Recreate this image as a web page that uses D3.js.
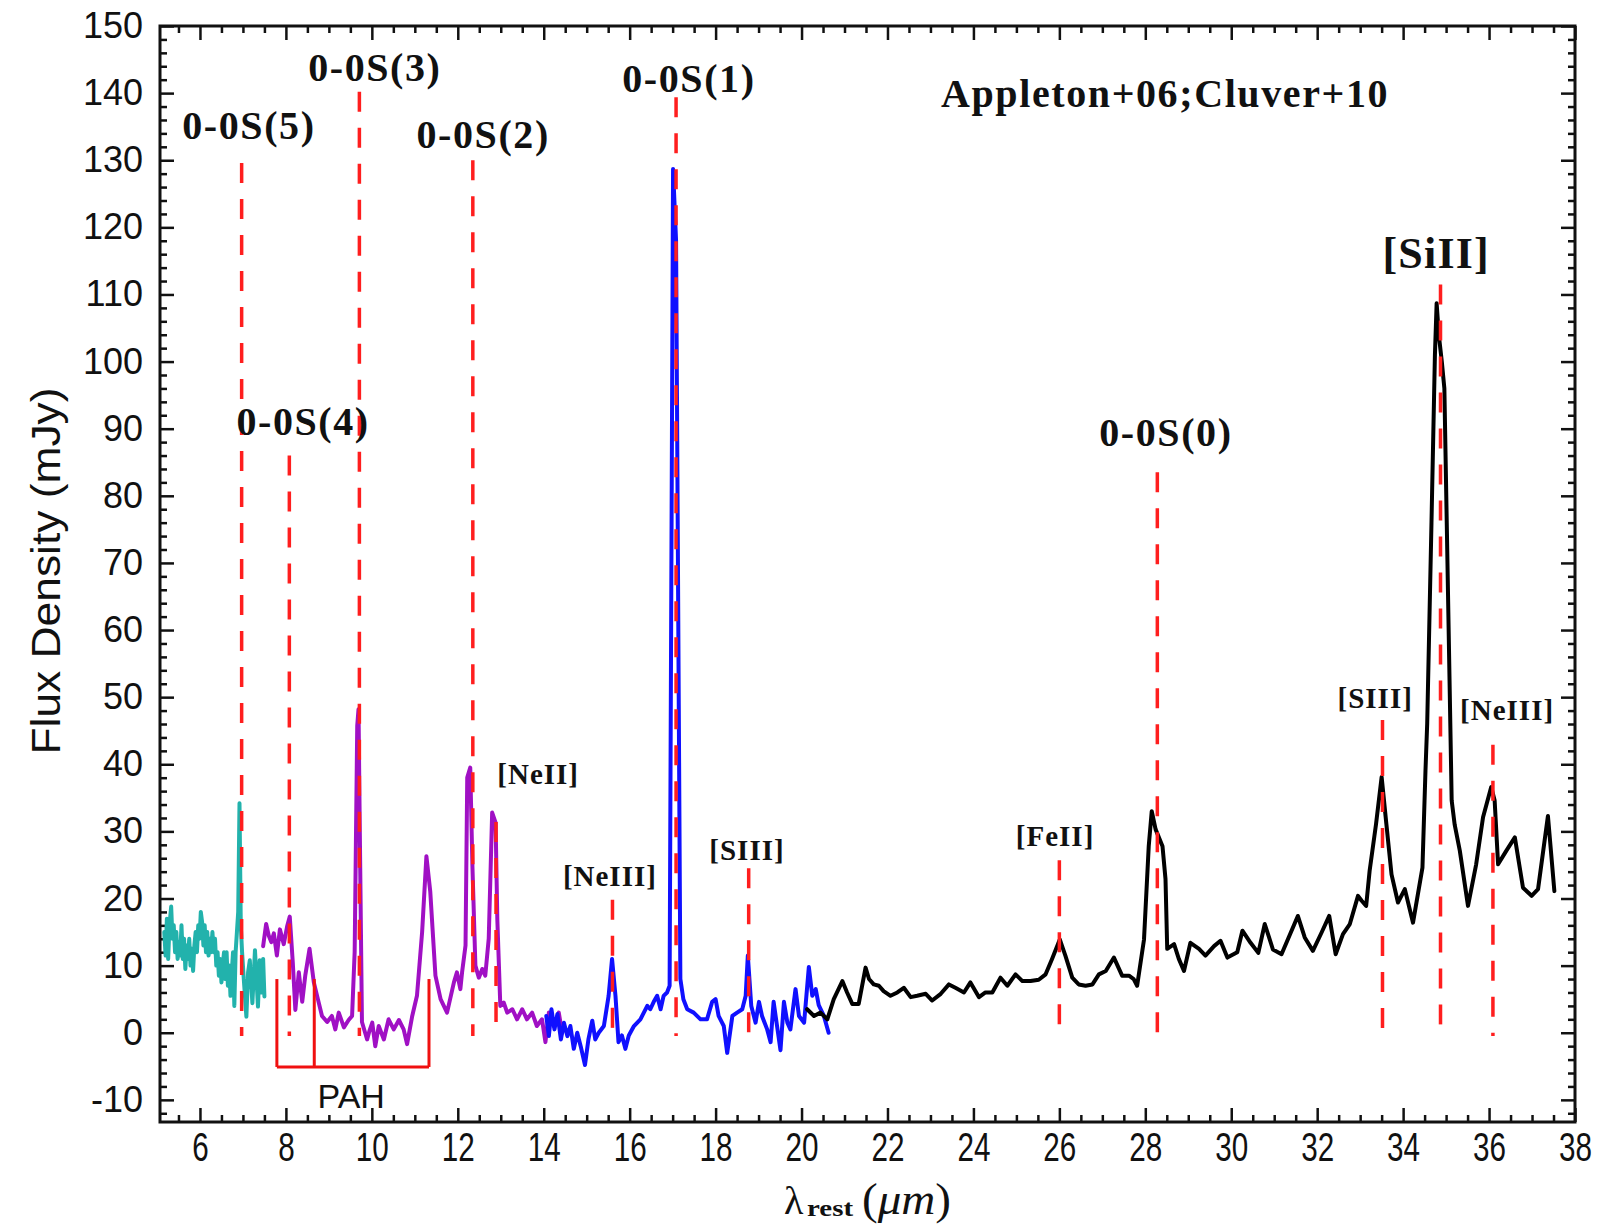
<!DOCTYPE html>
<html><head><meta charset="utf-8">
<script src="https://cdn.jsdelivr.net/npm/d3@7"></script>
<style>body{margin:0;background:#fff} svg{display:block}</style>
</head><body>
<svg id="chart" width="1600" height="1228"></svg>
<script>
// ---- spectrum segments: [wavelength (um), flux (mJy)] ----
const cyanSeg = [[5.17,15],[5.20,11.5],[5.23,17],[5.26,11],[5.29,16],[5.33,18.8],[5.36,14],[5.39,16],[5.42,12],[5.45,15],[5.48,11],[5.51,13.5],[5.54,11.5],[5.57,16],[5.60,11],[5.63,14],[5.66,9.5],[5.69,13],[5.72,11],[5.75,14],[5.78,10],[5.81,12.5],[5.84,9.2],[5.87,13],[5.90,15],[5.93,12],[5.96,16],[5.99,14],[6.02,18],[6.05,16.5],[6.08,13],[6.11,16],[6.14,12],[6.17,15],[6.20,11.5],[6.23,14],[6.26,12],[6.29,15],[6.32,12],[6.35,14],[6.38,10],[6.41,12],[6.44,8.5],[6.47,11],[6.50,7.5],[6.53,10],[6.56,12],[6.59,8],[6.62,12],[6.65,7],[6.68,10],[6.71,5.5],[6.74,9],[6.77,12],[6.80,4],[6.83,12],[6.86,15],[6.89,18],[6.92,34.2],[6.95,16],[6.98,12],[7.02,8],[7.08,2.4],[7.12,9],[7.16,10.8],[7.22,4.4],[7.28,12.3],[7.35,3.9],[7.39,10.8],[7.43,6],[7.47,11],[7.50,5.4]];
const purpleSeg = [[7.47,12.9],[7.54,16.2],[7.60,14.5],[7.66,13.5],[7.72,14.8],[7.79,11.5],[7.86,15.4],[7.95,13.2],[8.03,15.9],[8.09,17.3],[8.16,10.5],[8.22,3.4],[8.30,9],[8.38,4.6],[8.45,8.5],[8.55,12.5],[8.65,7.5],[8.76,4.6],[8.84,2.5],[8.96,1.6],[9.07,2.5],[9.15,0.5],[9.23,3],[9.35,0.8],[9.46,1.9],[9.54,2.5],[9.60,12],[9.66,45.7],[9.69,48.2],[9.72,30],[9.77,1.6],[9.89,-1],[9.95,0.4],[10.01,1.5],[10.08,-2],[10.16,1],[10.28,-1],[10.39,2],[10.51,0.5],[10.63,1.9],[10.74,0.5],[10.82,-1.7],[10.94,2.5],[11.05,5.5],[11.17,15],[11.27,26.3],[11.36,21],[11.48,8.5],[11.60,5],[11.75,3],[11.91,7.5],[11.98,9],[12.06,6.5],[12.10,9],[12.18,13],[12.22,38],[12.29,39.5],[12.34,25],[12.41,10],[12.49,8.2],[12.57,9.5],[12.64,8.5],[12.72,14],[12.80,32.8],[12.88,31.3],[12.92,16.9],[12.99,4],[13.07,4.5],[13.15,3],[13.27,3.5],[13.38,2],[13.50,3.5],[13.61,2],[13.73,3],[13.84,1],[13.96,2],[14.04,-1.4],[14.12,3],[14.23,1],[14.35,3],[14.43,0]];
const blueSeg = [[14.06,2.5],[14.12,-0.5],[14.18,3.5],[14.25,0.5],[14.32,2.8],[14.40,-1],[14.47,1.5],[14.55,-0.5],[14.62,1],[14.70,-2.4],[14.78,0],[14.86,-2],[14.96,-4.8],[15.04,-1],[15.13,1.8],[15.20,-1],[15.28,0],[15.40,1],[15.51,5.5],[15.59,11],[15.67,5.5],[15.74,-1.4],[15.82,-0.4],[15.90,-2.4],[15.98,-0.4],[16.10,1],[16.25,2],[16.41,4],[16.48,3.5],[16.56,4.6],[16.64,5.5],[16.72,3.5],[16.79,5.5],[16.87,6],[16.93,7],[17.01,128.7],[17.08,118],[17.18,8],[17.25,5],[17.34,3.5],[17.49,3],[17.65,2],[17.80,2],[17.92,4.6],[18.00,5],[18.07,2.5],[18.19,1],[18.27,-3],[18.39,2.5],[18.50,3],[18.62,3.5],[18.70,5.5],[18.75,11.5],[18.83,4],[18.93,1.5],[19.01,4.6],[19.08,2.5],[19.20,0.5],[19.28,-1.4],[19.35,4.6],[19.43,1],[19.51,-2.6],[19.59,4.6],[19.67,1.5],[19.74,0.5],[19.86,6.5],[19.94,2.5],[20.06,1.5],[20.17,9.8],[20.25,5.5],[20.33,6.5],[20.40,4.1],[20.52,2.5],[20.63,0]];
const blackSeg = [[20.13,3.5],[20.29,2.5],[20.44,3],[20.60,2],[20.75,5],[20.95,7.7],[21.06,6],[21.18,4.3],[21.33,4.3],[21.49,9.7],[21.57,8],[21.68,7.2],[21.80,7],[21.91,6.2],[22.07,5.5],[22.23,6],[22.38,6.7],[22.54,5.3],[22.69,5.5],[22.89,5.8],[23.04,4.8],[23.24,5.8],[23.43,7.2],[23.58,6.7],[23.78,6],[23.93,7.5],[24.13,5.3],[24.28,6],[24.44,6],[24.63,8.2],[24.79,7],[24.98,8.7],[25.14,7.7],[25.33,7.7],[25.52,7.9],[25.68,8.7],[25.83,11],[26.01,13.9],[26.14,11.5],[26.30,8.2],[26.45,7.2],[26.61,7],[26.77,7.2],[26.92,8.7],[27.08,9.2],[27.27,11.2],[27.46,8.5],[27.62,8.5],[27.73,8],[27.81,7],[27.97,13.9],[28.08,27.8],[28.15,33],[28.24,30.3],[28.40,27.8],[28.47,22.9],[28.51,12.5],[28.67,13.2],[28.78,11],[28.90,9.2],[29.05,13.4],[29.25,12.5],[29.40,11.5],[29.60,12.9],[29.75,13.7],[29.91,11.2],[30.14,12],[30.26,15.2],[30.45,13.4],[30.63,11.9],[30.78,16.2],[30.97,12.4],[31.17,11.7],[31.55,17.4],[31.71,14.2],[31.90,12.2],[32.10,14.9],[32.28,17.4],[32.43,11.7],[32.60,14.7],[32.76,16.2],[32.95,20.4],[33.03,19.7],[33.14,18.9],[33.22,24.1],[33.37,31.1],[33.50,38.1],[33.61,31.1],[33.73,23.6],[33.88,19.4],[34.04,21.4],[34.23,16.4],[34.45,24.6],[34.52,39],[34.56,46],[34.66,76],[34.74,101],[34.78,108.7],[34.83,104],[34.90,100],[34.96,96],[35.13,34.6],[35.20,31],[35.32,27.1],[35.51,18.9],[35.70,25.1],[35.86,32.1],[36.05,36.6],[36.13,34.6],[36.21,25.1],[36.40,27.1],[36.60,29.1],[36.79,21.6],[36.99,20.4],[37.14,21.4],[37.37,32.3],[37.52,21.1]];

// ---- emission line markers ----
const lineNames = ["0-0S(5)","0-0S(4)","0-0S(3)","0-0S(2)","[NeII]","[NeIII]","0-0S(1)","[SIII]","[FeII]","0-0S(0)","[SIII]","[SiII]","[NeIII]"];
const lineX   = [6.97, 8.08, 9.71, 12.35, 12.89, 15.60, 17.08, 18.77, 26.00, 28.28, 33.52, 34.87, 36.09];
const lineTop = [129.6, 86, 140.2, 130, 31.4, 19.8, 139.4, 24.5, 25.7, 83.5, 46.6, 111.5, 42.9];
const lineBottom = -0.5;

// ---- PAH bracket ----
const pahX = [7.79, 8.66, 11.33];
const pahTop = 8;
const pahBase = -5.1;

// ---- annotation texts (anchor in data units) ----
const labelText = ["0-0S(5)","0-0S(3)","0-0S(2)","0-0S(1)","Appleton+06;Cluver+10","[SiII]","0-0S(4)","0-0S(0)","[NeII]","[NeIII]","[SIII]","[FeII]","[SIII]","[NeIII]","PAH"];
const labelX = [7.14, 10.07, 12.59, 17.38, 28.46, 34.77, 8.40, 28.48, 13.87, 15.54, 18.73, 25.90, 33.35, 36.42, 9.52];
const labelY = [133.2, 141.8, 131.8, 140.2, 137.9, 113.9, 89.1, 87.4, 37.1, 21.9, 25.7, 27.8, 48.4, 46.6, -11.2];
const labelKind = ["h","h","h","h","h","big","h","h","s","s","s","s","s","s","pah"];

// ---- axis ticks ----
const xTicks = d3.range(6, 38.01, 2);
const xMinor = d3.range(5.5, 38.01, 0.5).filter(v => v % 2 !== 0);
const yTicks = d3.range(-10, 150.01, 10);
const yMinor = d3.range(-12, 150.01, 2).filter(v => v % 10 !== 0);

// ================= drawing =================
const svg = d3.select("#chart");
svg.append("rect").attr("width",1600).attr("height",1228).attr("fill","#fff");
const m = {l:160, t:26, r:1575, b:1122};
const x = d3.scaleLinear().domain([5.07, 38]).range([m.l, m.r]);
const y = d3.scaleLinear().domain([-13.3, 150]).range([m.b, m.t]);

const kindStyle = {
  h:   {font:"'Liberation Serif','Times New Roman',serif", size:40, weight:"bold", ls:1.6},
  big: {font:"'Liberation Serif','Times New Roman',serif", size:44, weight:"bold", ls:1.2},
  s:   {font:"'Liberation Serif','Times New Roman',serif", size:29, weight:"bold", ls:1},
  pah: {font:"'Liberation Sans',Arial,sans-serif", size:34, weight:"normal", ls:0}
};

// axes
function styleAxis(g){ g.select(".domain").remove(); g.selectAll(".tick line").attr("stroke","#111").attr("stroke-width",2.5); }
const sans = "'Liberation Sans',Arial,Helvetica,sans-serif";
const fmt = d => String(d);

const gxB = svg.append("g").attr("transform",`translate(0,${m.b})`)
  .call(d3.axisBottom(x).tickValues(xTicks).tickSize(-14).tickPadding(11).tickFormat(fmt));
styleAxis(gxB);
gxB.selectAll(".tick text").attr("font-family",sans).attr("font-size",40).attr("fill","#111")
  .attr("textLength", d => String(d).length*16.5).attr("lengthAdjust","spacingAndGlyphs");
const gxBm = svg.append("g").attr("transform",`translate(0,${m.b})`)
  .call(d3.axisBottom(x).tickValues(xMinor).tickSize(-7).tickFormat(""));
styleAxis(gxBm);
const gxT = svg.append("g").attr("transform",`translate(0,${m.t})`)
  .call(d3.axisTop(x).tickValues(xTicks).tickSize(-14).tickFormat(""));
styleAxis(gxT);
const gxTm = svg.append("g").attr("transform",`translate(0,${m.t})`)
  .call(d3.axisTop(x).tickValues(xMinor).tickSize(-7).tickFormat(""));
styleAxis(gxTm);

const gyL = svg.append("g").attr("transform",`translate(${m.l},0)`)
  .call(d3.axisLeft(y).tickValues(yTicks).tickSize(-14).tickPadding(17).tickFormat(fmt));
styleAxis(gyL);
gyL.selectAll(".tick text").attr("font-family",sans).attr("font-size",36).attr("fill","#111");
const gyLm = svg.append("g").attr("transform",`translate(${m.l},0)`)
  .call(d3.axisLeft(y).tickValues(yMinor).tickSize(-7).tickFormat(""));
styleAxis(gyLm);
const gyR = svg.append("g").attr("transform",`translate(${m.r},0)`)
  .call(d3.axisRight(y).tickValues(yTicks).tickSize(-14).tickFormat(""));
styleAxis(gyR);
const gyRm = svg.append("g").attr("transform",`translate(${m.r},0)`)
  .call(d3.axisRight(y).tickValues(yMinor).tickSize(-7).tickFormat(""));
styleAxis(gyRm);

svg.append("rect").attr("x",m.l).attr("y",m.t).attr("width",m.r-m.l).attr("height",m.b-m.t)
  .attr("fill","none").attr("stroke","#111").attr("stroke-width",3);

// spectrum
const line = d3.line().x(d => x(d[0])).y(d => y(d[1]));
const segs = [[cyanSeg,"#22b2ac"],[purpleSeg,"#a010c4"],[blueSeg,"#1010ff"],[blackSeg,"#000"]];
segs.forEach(([data,col]) => {
  svg.append("path").datum(data).attr("d",line).attr("fill","none").attr("stroke",col)
    .attr("stroke-width",4).attr("stroke-linejoin","round").attr("stroke-linecap","round");
});

// dashed emission markers
svg.append("g").selectAll("line").data(lineX).join("line")
  .attr("x1", d => x(d)).attr("x2", d => x(d))
  .attr("y1", (d,i) => y(lineTop[i])).attr("y2", y(lineBottom))
  .attr("stroke","#ff1e1e").attr("stroke-width",3.5).attr("stroke-dasharray","20,16");

// PAH bracket
const pg = svg.append("g").attr("stroke","#f01010").attr("stroke-width",3).attr("fill","none");
pg.selectAll("line.v").data(pahX).join("line").attr("class","v")
  .attr("x1", d => x(d)).attr("x2", d => x(d)).attr("y1", y(pahTop)).attr("y2", y(pahBase));
pg.append("line").attr("x1", x(d3.min(pahX))).attr("x2", x(d3.max(pahX)))
  .attr("y1", y(pahBase)).attr("y2", y(pahBase));

// annotations
svg.append("g").selectAll("text").data(labelText).join("text")
  .attr("x", (d,i) => x(labelX[i])).attr("y", (d,i) => y(labelY[i]))
  .attr("text-anchor","middle")
  .attr("font-family", (d,i) => kindStyle[labelKind[i]].font)
  .attr("font-size", (d,i) => kindStyle[labelKind[i]].size)
  .attr("font-weight", (d,i) => kindStyle[labelKind[i]].weight)
  .attr("letter-spacing", (d,i) => kindStyle[labelKind[i]].ls)
  .attr("fill","#111")
  .text(d => d);

// axis titles
svg.append("text").attr("transform","translate(60,571) rotate(-90)")
  .attr("text-anchor","middle").attr("font-family",sans).attr("font-size",40).attr("fill","#111")
  .attr("textLength",367).attr("lengthAdjust","spacingAndGlyphs")
  .text("Flux Density (mJy)");

const serif = "'Liberation Serif','Times New Roman',serif";
svg.append("text").attr("x",784).attr("y",1214).attr("font-family",serif).attr("font-size",40).attr("fill","#111").text("λ");
svg.append("text").attr("x",807).attr("y",1216).attr("font-family",serif).attr("font-size",24).attr("font-weight","bold").attr("fill","#111")
  .attr("textLength",46).attr("lengthAdjust","spacingAndGlyphs").text("rest");
const xt = svg.append("text").attr("x",862).attr("y",1214).attr("font-family",serif).attr("font-size",44).attr("fill","#111")
  .attr("textLength",89).attr("lengthAdjust","spacingAndGlyphs");
xt.append("tspan").text("(");
xt.append("tspan").attr("font-style","italic").text("μm");
xt.append("tspan").text(")");
</script>
</body></html>
